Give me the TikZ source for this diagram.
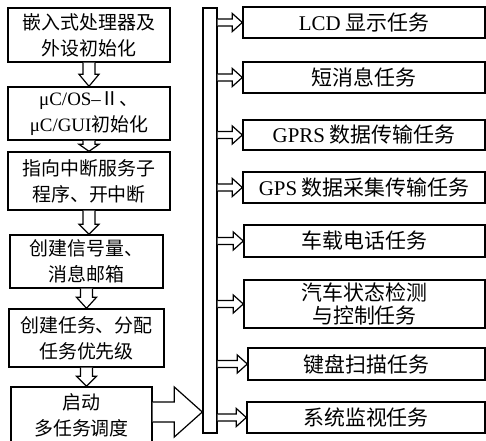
\documentclass[tikz,border=0pt]{standalone}
\usepackage{fontspec}
\setmainfont{Liberation Serif}
\newfontfamily\cjk{Noto Sans CJK SC}
\newfontfamily\lat{Liberation Serif}
\usetikzlibrary{calc}
\newcommand\DnArr[3]{\draw[harrow] let \p1=(#1.south),\p2=(#2.north) in
  (\x1-6bp,\y1) -- (\x1-6bp,\y2+#3) -- (\x1-10bp,\y2+#3) -- (\x1,\y2)
  -- (\x1+10bp,\y2+#3) -- (\x1+6bp,\y2+#3) -- (\x1+6bp,\y1);}
\newcommand\RtArr[2]{\draw[harrow] let \p1=(#1.east),\p2=(#2.west) in
  (\x1,\y2+3.5bp) -- (\x2-10bp,\y2+3.5bp) -- (\x2-10bp,\y2+9bp) -- (\x2,\y2)
  -- (\x2-10bp,\y2-9bp) -- (\x2-10bp,\y2-3.5bp) -- (\x1,\y2-3.5bp);}
\begin{document}
\begin{tikzpicture}[x=1bp,y=-1bp,
  box/.style={draw,line width=1.4bp,rectangle,inner sep=0pt,align=center,
    font=\cjk\fontsize{19}{26}\selectfont},
  rbox/.style={box,minimum width=242bp,font=\cjk\fontsize{21}{23}\selectfont},
  harrow/.style={draw,line width=1.2bp,fill=white,line join=miter}]
\useasboundingbox (0,0) rectangle (486,441);
% left column
\node[box,minimum width=162bp,minimum height=54bp] (b1) at (89,35) {嵌入式处理器及\\外设初始化};
\node[box,minimum width=162bp,minimum height=53bp] (b2) at (89,113.5) {{\lat μC/OS–}Ⅱ、\\{\lat μC/GUI}初始化};
\node[box,minimum width=162bp,minimum height=58bp] (b3) at (89,181) {指向中断服务子\\程序、开中断};
\node[box,minimum width=153bp,minimum height=53bp] (b4) at (86.5,261.5) {创建信号量、\\消息邮箱};
\node[box,minimum width=155bp,minimum height=58bp] (b5) at (86.5,338) {创建任务、分配\\任务优先级};
\node[box,minimum width=141bp,minimum height=56bp] (b6) at (81.5,415) {启动\\多任务调度};
% bus
\node[draw,line width=1.4bp,rectangle,inner sep=0pt,minimum width=14bp,minimum height=425bp] (bus) at (210,220.5) {};
% right column
\node[rbox,minimum height=31bp] (r1) at (364,22.5) {{\lat LCD} 显示任务};
\node[rbox,minimum height=31bp] (r2) at (364,77.5) {短消息任务};
\node[rbox,minimum height=30bp] (r3) at (364,135) {{\lat GPRS} 数据传输任务};
\node[rbox,minimum height=31bp] (r4) at (364,187.5) {{\lat GPS} 数据采集传输任务};
\node[rbox,minimum width=241bp,minimum height=32bp] (r5) at (364.5,241) {车载电话任务};
\node[rbox,minimum width=241bp,minimum height=48bp] (r6) at (364.5,304) {汽车状态检测\\与控制任务};
\node[rbox,minimum width=237bp,minimum height=32bp] (r7) at (366.5,364) {键盘扫描任务};
\node[rbox,minimum width=238bp,minimum height=31bp] (r8) at (366,417.5) {系统监视任务};
% down arrows
\DnArr{b1}{b2}{12bp}
\DnArr{b2}{b3}{7bp}
\DnArr{b3}{b4}{10bp}
\DnArr{b4}{b5}{11bp}
\DnArr{b5}{b6}{10bp}
% big arrow
\draw[harrow] let \p1=(b6.east),\p2=(bus.west) in
  (\x1,\y1+13bp) -- (\x2-28bp,\y1+13bp) -- (\x2-28bp,\y1+28bp) -- (\x2,\y1+3bp)
  -- (\x2-28bp,\y1-22bp) -- (\x2-28bp,\y1-7bp) -- (\x1,\y1-7bp);
% right arrows
\RtArr{bus}{r1}
\RtArr{bus}{r2}
\RtArr{bus}{r3}
\RtArr{bus}{r4}
\RtArr{bus}{r5}
\RtArr{bus}{r6}
\RtArr{bus}{r7}
\RtArr{bus}{r8}
\end{tikzpicture}
\end{document}
